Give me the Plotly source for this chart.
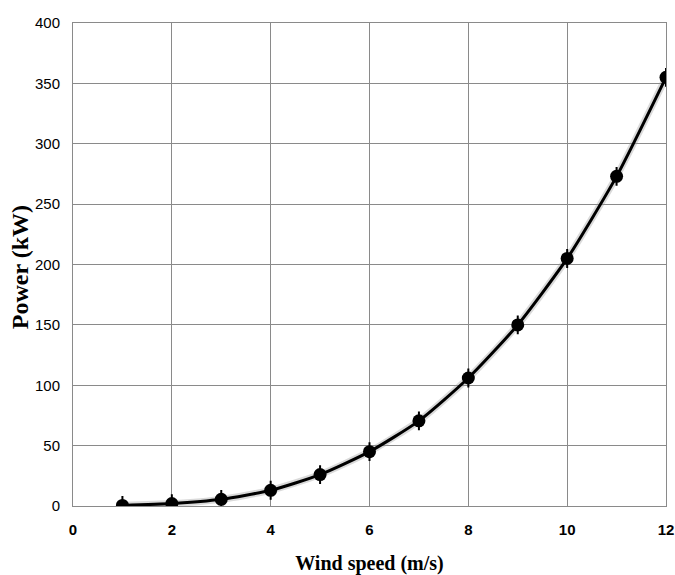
import plotly.graph_objects as go

wind_speed = [1, 2, 3, 4, 5, 6, 7, 8, 9, 10, 11, 12]
power_kw = [0.5, 2, 5.5, 13, 26, 45, 70.5, 106, 150, 205, 273, 355]
power_err = [7, 7, 7, 7, 7, 7, 7, 7, 7, 7, 7, 7]

x_ticks = [0, 2, 4, 6, 8, 10, 12]
x_tick_labels = ["0", "2", "4", "6", "8", "10", "12"]
y_ticks = [0, 50, 100, 150, 200, 250, 300, 350, 400]
y_tick_labels = ["0", "50", "100", "150", "200", "250", "300", "350", "400"]

fig = go.Figure()

# soft shadow beneath the curve
fig.add_trace(go.Scatter(
    x=wind_speed, y=power_kw, mode="lines",
    line=dict(color="rgba(150,150,150,0.35)", width=7, shape="spline", smoothing=0.6),
    hoverinfo="skip", showlegend=False,
))

fig.add_trace(go.Scatter(
    x=wind_speed, y=power_kw, mode="lines+markers",
    line=dict(color="black", width=3, shape="spline", smoothing=0.6),
    marker=dict(color="black", size=13, symbol="circle"),
    error_y=dict(type="data", array=power_err, color="black", thickness=2, width=1),
    showlegend=False,
))

grid_color = "#8a8a8a"

fig.update_layout(
    width=675, height=575,
    margin=dict(l=73, r=9, t=23, b=69),
    paper_bgcolor="white", plot_bgcolor="white",
    xaxis=dict(
        range=[0, 12], tickvals=x_ticks,
        ticktext=["<b>" + t + "</b>" for t in x_tick_labels],
        automargin=False, ticklabeloverflow="allow",
        showgrid=True, gridcolor=grid_color, gridwidth=1,
        showline=True, linecolor=grid_color, linewidth=1, mirror=True,
        zeroline=False, ticks="outside", ticklen=10, tickcolor="rgba(0,0,0,0)",
        tickfont=dict(family="Liberation Sans", size=15, color="black"),
        title=dict(text="<b>Wind speed (m/s)</b>", standoff=19,
                   font=dict(family="Liberation Serif", size=20, color="black")),
    ),
    yaxis=dict(
        range=[0, 400], tickvals=y_ticks, ticktext=y_tick_labels,
        automargin=False,
        showgrid=True, gridcolor=grid_color, gridwidth=1,
        showline=True, linecolor=grid_color, linewidth=1, mirror=True,
        zeroline=False, ticks="outside", ticklen=9, tickcolor="rgba(0,0,0,0)",
        tickfont=dict(family="Liberation Sans", size=15, color="black"),
    ),
    annotations=[dict(
        text="<b>Power (kW)</b>", textangle=-90,
        xref="paper", yref="paper", x=-0.089, y=0.495,
        xanchor="center", yanchor="middle", showarrow=False,
        font=dict(family="Liberation Serif", size=24, color="black"),
    )],
)

# remove the default page margin so the figure fills the window exactly
fig.write_html("out.html", config={"displayModeBar": False},
               post_script="document.body.style.margin='0';")
